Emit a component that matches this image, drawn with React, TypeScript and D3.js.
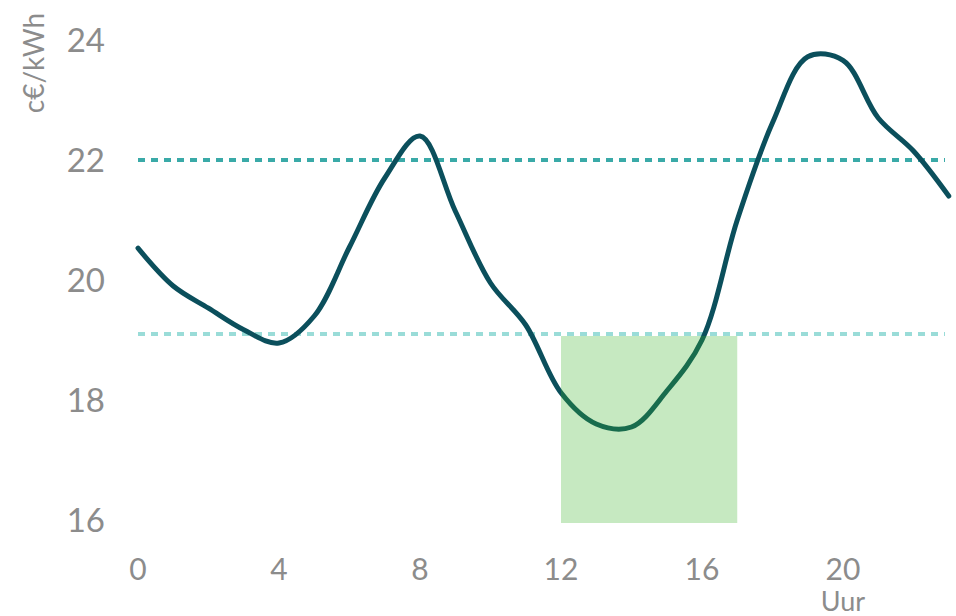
import React from "react";
import * as d3 from "d3";

const hours = [0, 1, 2, 3, 4, 5, 6, 7, 8, 9, 10, 11, 12, 13, 14, 15, 16, 17, 18, 19, 20, 21, 22, 23];
const prices = [20.53, 19.9, 19.53, 19.17, 18.95, 19.4, 20.55, 21.7, 22.4, 21.15, 19.95, 19.25, 18.12, 17.6, 17.55, 18.15, 19.0, 21.0, 22.62, 23.72, 23.66, 22.7, 22.15, 21.4];
const xTicks = [0, 4, 8, 12, 16, 20];
const yTicks = [16, 18, 20, 22, 24];
const upperRef = 22;
const lowerRef = 19.1;
const cheapWindow = [12, 17];
const cheapBottom = 15.95;

export default function App() {
  const W = 956, H = 616;
  const x = d3.scaleLinear().domain([0, 20]).range([138, 843]);
  const y = d3.scaleLinear().domain([16, 24]).range([520, 40]);
  const line = d3
    .line<number>()
    .x((_, i) => x(hours[i]))
    .y((d) => y(d))
    .curve(d3.curveCatmullRom.alpha(0.5));
  const font = "Lato, 'Open Sans', sans-serif";
  const gray = "#8c8c8c";
  return (
    <svg width={W} height={H} style={{ position: "absolute", left: 0, top: 0, background: "#fff" }}>
      <line x1={x(0)} x2={945} y1={y(upperRef)} y2={y(upperRef)} stroke="#3aaaa8" strokeWidth={4} strokeDasharray="7 6" />
      <line x1={x(0)} x2={945} y1={y(lowerRef)} y2={y(lowerRef)} stroke="#9adcd8" strokeWidth={4} strokeDasharray="7 6" />
      <path d={line(prices) || ""} fill="none" stroke="#0b4f5c" strokeWidth={5} strokeLinecap="round" />
      <rect
        x={x(cheapWindow[0])}
        width={x(cheapWindow[1]) - x(cheapWindow[0])}
        y={y(lowerRef) + 2}
        height={y(cheapBottom) - y(lowerRef) - 2}
        fill="rgb(60,180,40)"
        fillOpacity={0.29}
      />
      {yTicks.map((t) => (
        <text key={t} x={105} y={y(t)} dy="0.36em" textAnchor="end" fontFamily={font} fontSize={33} fill={gray}>
          {t}
        </text>
      ))}
      {xTicks.map((t) => (
        <text key={t} x={x(t)} y={580} textAnchor="middle" fontFamily={font} fontSize={30} fill={gray}>
          {t}
        </text>
      ))}
      <text x={x(20)} y={611} textAnchor="middle" fontFamily={font} fontSize={27} fill={gray}>
        Uur
      </text>
      <text
        transform={`translate(44,63) rotate(-90)`}
        textAnchor="middle"
        fontFamily={font}
        fontSize={28}
        fill={gray}
      >
        c€/kWh
      </text>
    </svg>
  );
}
